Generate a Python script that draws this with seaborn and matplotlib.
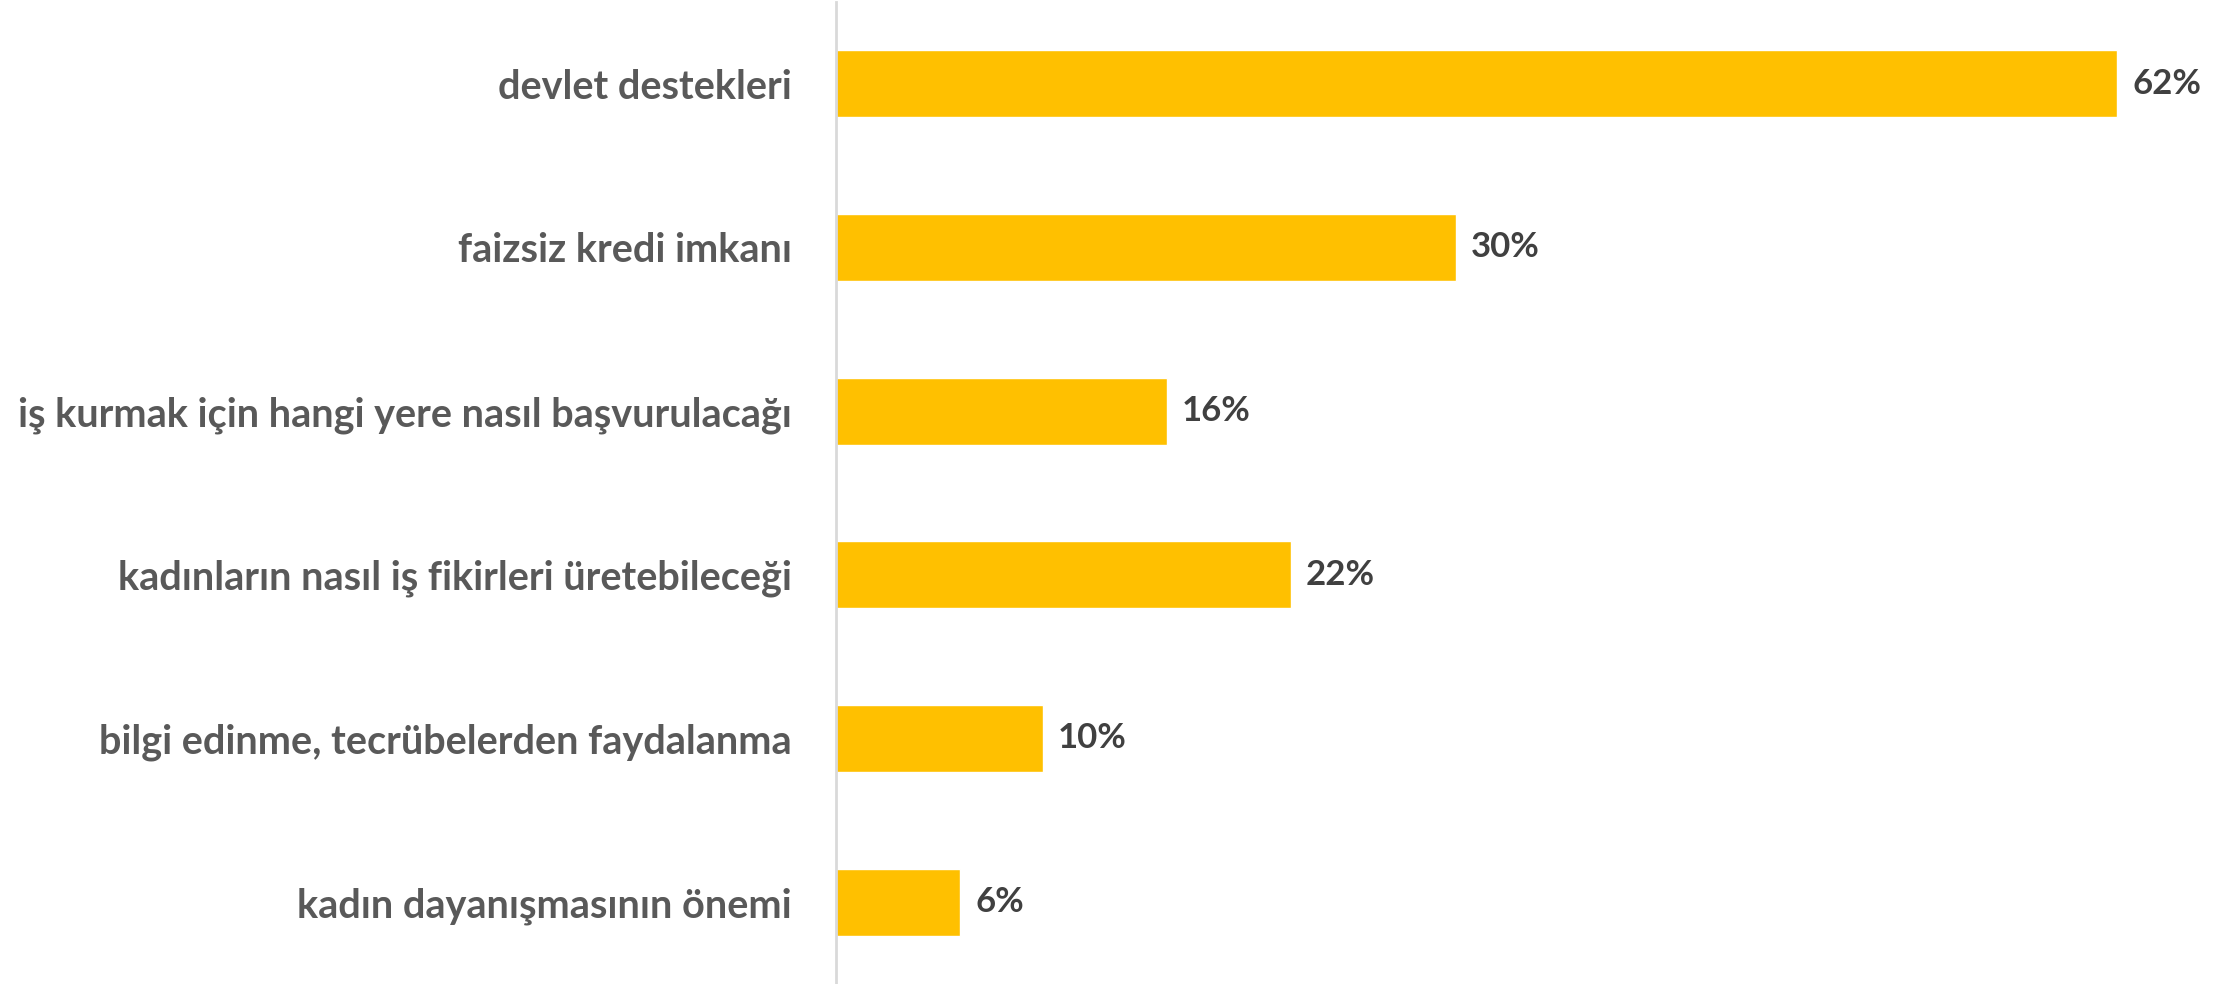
"""Horizontal bar chart: share of answers per topic."""

import matplotlib
matplotlib.use("Agg")
import matplotlib.pyplot as plt
import pandas as pd
import seaborn as sns

categories = [
    "devlet destekleri",
    "faizsiz kredi imkanı",
    "iş kurmak için hangi yere nasıl başvurulacağı",
    "kadınların nasıl iş fikirleri üretebileceği",
    "bilgi edinme, tecrübelerden faydalanma",
    "kadın dayanışmasının önemi",
]
values = [62, 30, 16, 22, 10, 6]

df = pd.DataFrame({"konu": categories, "oran": values})

sns.set_theme(style="white")
plt.rcParams["font.family"] = ["Lato", "DejaVu Sans"]

fig = plt.figure(figsize=(22.23, 9.84), dpi=100)
ax = fig.add_axes([836 / 2223, 0.0, 1 - 836 / 2223, 0.998])

sns.barplot(data=df, x="oran", y="konu", color="#FFC000", saturation=1,
            width=0.41, orient="h", ax=ax)

ax.set_xlim(0, (2223 - 836) / 20.66)
ax.set_ylim(5.5, -0.5)
ax.set_xlabel("")
ax.set_ylabel("")
ax.set_xticks([])

for side in ["top", "right", "bottom"]:
    ax.spines[side].set_visible(False)
ax.spines["left"].set_color("#D9D9D9")
ax.spines["left"].set_linewidth(2)

ax.tick_params(axis="y", length=0, pad=32)
for lbl in ax.get_yticklabels():
    lbl.set_fontsize(28.5)
    lbl.set_fontweight("bold")
    lbl.set_color("#595959")

ax.bar_label(ax.containers[0], labels=[f"{v}%" for v in values], padding=11,
             fontsize=25, fontweight="bold", color="#404040")

fig.savefig("out.png", dpi=100)
plt.close(fig)
